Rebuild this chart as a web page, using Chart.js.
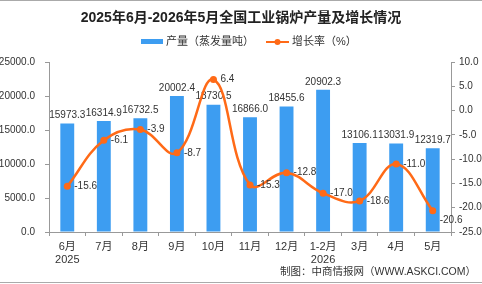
<!DOCTYPE html>
<html>
<head>
<meta charset="utf-8">
<script src="https://cdn.jsdelivr.net/npm/chart.js@4/dist/chart.umd.min.js"></script>
<style>
  html, body { margin: 0; padding: 0; background: #fff; }
  #wrap { width: 482px; height: 284px; position: relative; }
</style>
</head>
<body>
<div id="wrap"><canvas id="chart1"></canvas></div>
<script>
const months = [['6月', '2025'], '7月', '8月', '9月', '10月', '11月', '12月', ['1-2月', '2026'], '3月', '4月', '5月'];
const output = [15973.3, 16314.9, 16732.5, 20002.4, 18730.5, 16866.0, 18455.6, 20902.3, 13106.1, 13031.9, 12319.7];
const growth = [-15.6, -6.1, -3.9, -8.7, 6.4, -15.3, -12.8, -17.0, -18.6, -11.0, -20.6];

const titleText = '2025年6月-2026年5月全国工业锅炉产量及增长情况';
const legendBar = '产量（蒸发量吨）';
const legendLine = '增长率（%）';
const sourceText = '制图：中商情报网（WWW.ASKCI.COM）';

const FONT = "'Liberation Sans', 'Noto Sans CJK SC', sans-serif";
const BLUE = '#3d9df1';
const ORANGE = '#ff6a17';
const TXT = '#333';

// labels, title, legend and frame lines
const decor = {
  id: 'decor',
  afterDatasetDraw(chart, args) {
    if (args.index !== 0) return;
    const ctx = chart.ctx;
    ctx.save();
    ctx.font = '10px ' + FONT;
    ctx.fillStyle = TXT;
    ctx.textAlign = 'center';
    ctx.textBaseline = 'bottom';
    args.meta.data.forEach((el, i) => {
      ctx.fillText(output[i].toFixed(1), el.x, el.y - 3);
    });
    ctx.restore();
  },
  afterDatasetsDraw(chart) {
    const ctx = chart.ctx;
    const meta = chart.getDatasetMeta(1);
    ctx.save();
    ctx.font = '10px ' + FONT;
    ctx.fillStyle = TXT;
    ctx.textAlign = 'left';
    ctx.textBaseline = 'middle';
    meta.data.forEach((el, i) => {
      const dy = i === growth.length - 1 ? 10 : 0;
      ctx.fillText(growth[i].toFixed(1), el.x + 7, el.y + dy);
    });
    ctx.restore();
  },
  afterDraw(chart) {
    const ctx = chart.ctx;
    ctx.save();
    // frame lines
    ctx.strokeStyle = '#aaa';
    ctx.lineWidth = 1;
    ctx.beginPath();
    ctx.moveTo(0, 0.5); ctx.lineTo(482, 0.5);
    ctx.moveTo(0, 282.5); ctx.lineTo(482, 282.5);
    ctx.stroke();
    // title
    ctx.fillStyle = '#222';
    ctx.font = 'bold 14px ' + FONT;
    ctx.textAlign = 'center';
    ctx.textBaseline = 'middle';
    ctx.fillText(titleText, 241, 18);
    // legend
    ctx.font = '11px ' + FONT;
    ctx.textAlign = 'left';
    ctx.fillStyle = BLUE;
    ctx.fillRect(141, 39, 22, 5);
    ctx.fillStyle = TXT;
    ctx.fillText(legendBar, 166, 42);
    ctx.strokeStyle = ORANGE;
    ctx.lineWidth = 2;
    ctx.beginPath();
    ctx.moveTo(266, 42); ctx.lineTo(289, 42);
    ctx.stroke();
    ctx.fillStyle = ORANGE;
    ctx.beginPath();
    ctx.arc(277.5, 42, 3, 0, Math.PI * 2);
    ctx.fill();
    ctx.fillStyle = TXT;
    ctx.fillText(legendLine, 292, 42);
    // source
    ctx.font = '10.5px ' + FONT;
    ctx.textAlign = 'right';
    ctx.fillText(sourceText, 476, 272);
    ctx.restore();
  }
};

new Chart(document.getElementById('chart1'), {
  type: 'bar',
  data: {
    labels: months,
    datasets: [
      {
        type: 'bar',
        label: legendBar,
        data: output,
        backgroundColor: BLUE,
        categoryPercentage: 1,
        barPercentage: 0.38,
        yAxisID: 'y',
        order: 1
      },
      {
        type: 'line',
        label: legendLine,
        data: growth,
        borderColor: ORANGE,
        backgroundColor: ORANGE,
        borderWidth: 2.5,
        tension: 0.4,
        pointRadius: 3.5,
        pointBackgroundColor: ORANGE,
        pointBorderWidth: 0,
        yAxisID: 'y1',
        order: 0
      }
    ]
  },
  options: {
    responsive: true,
    maintainAspectRatio: false,
    animation: false,
    layout: { padding: { top: 62, left: 0, right: 0, bottom: 0 } },
    plugins: {
      legend: { display: false },
      title: { display: false },
      tooltip: { enabled: false }
    },
    scales: {
      x: {
        grid: { drawOnChartArea: false, tickLength: 4, color: '#999' },
        border: { color: '#999' },
        ticks: { color: TXT, font: { family: FONT, size: 11 }, padding: 4, maxRotation: 0, autoSkip: false },
        afterFit: s => { s.height = 52; }
      },
      y: {
        position: 'left',
        min: 0,
        max: 25000,
        grid: { drawOnChartArea: false, tickLength: 4, color: '#999' },
        border: { color: '#999' },
        ticks: { stepSize: 5000, color: TXT, padding: 10, font: { family: FONT, size: 10 }, callback: v => v.toFixed(1) },
        afterFit: s => { s.width = 49; }
      },
      y1: {
        position: 'right',
        min: -25,
        max: 10,
        grid: { drawOnChartArea: false, tickLength: 4, color: '#999' },
        border: { color: '#999' },
        ticks: { stepSize: 5, color: TXT, padding: 4, font: { family: FONT, size: 10 }, callback: v => v.toFixed(1) },
        afterFit: s => { s.width = 31; }
      }
    }
  },
  plugins: [decor]
});
</script>
</body>
</html>
